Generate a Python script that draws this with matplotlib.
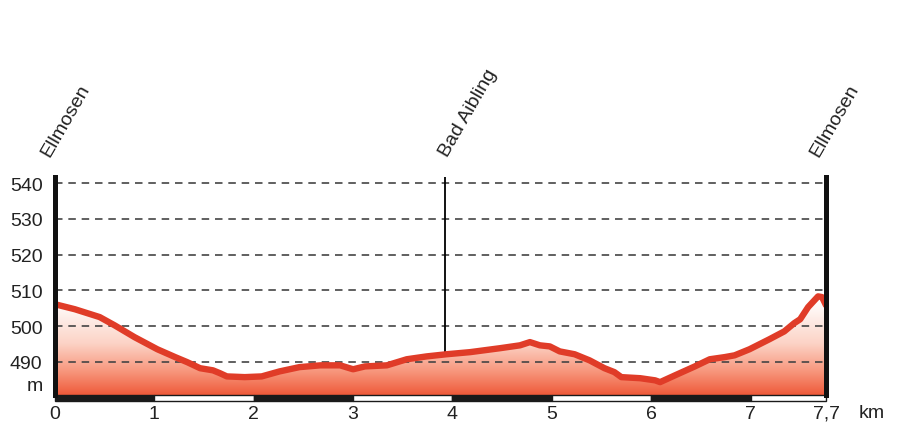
import numpy as np
import matplotlib.pyplot as plt
import matplotlib.transforms as mtransforms
from matplotlib.colors import LinearSegmentedColormap

plt.rcParams['font.family'] = ['Liberation Sans', 'DejaVu Sans']

# elevation profile (km, m)
dist = [0.0, 0.2, 0.45, 0.6, 0.8, 1.03, 1.21, 1.33, 1.46, 1.59, 1.66, 1.73,
        1.91, 2.08, 2.26, 2.46, 2.67, 2.87, 3.0, 3.12, 3.34, 3.54, 3.74, 3.94,
        4.18, 4.48, 4.68, 4.78, 4.88, 4.98, 5.08, 5.23, 5.38, 5.53, 5.63, 5.70,
        5.89, 6.04, 6.09, 6.24, 6.44, 6.59, 6.74, 6.84, 6.99, 7.19, 7.34, 7.44,
        7.50, 7.58, 7.68, 7.72, 7.76]
elev = [506.1, 504.7, 502.5, 500.2, 496.9, 493.5, 491.3, 489.9, 488.2, 487.6,
        486.8, 485.9, 485.7, 485.9, 487.3, 488.5, 489.0, 489.0, 487.9, 488.7,
        489.0, 490.7, 491.5, 492.1, 492.7, 493.8, 494.6, 495.5, 494.6, 494.3,
        492.9, 492.1, 490.4, 488.2, 487.1, 485.7, 485.4, 484.8, 484.3, 486.2,
        488.7, 490.7, 491.3, 491.8, 493.5, 496.3, 498.5, 500.8, 501.9, 505.3,
        508.3, 508.1, 505.8]

places = ['Ellmosen', 'Bad Aibling', 'Ellmosen']
place_km = [0.0, 3.93, 7.76]
place_lbl_x = [-0.06, 3.95, 7.68]

yticks = [490, 500, 510, 520, 530, 540]
xticks = [0, 1, 2, 3, 4, 5, 6, 7, 7.76]
xlabels = ['0', '1', '2', '3', '4', '5', '6', '7', '7,7']

x_max = 7.76
y_min, y_max = 480.7, 541.7

fig = plt.figure(figsize=(9, 4.27), dpi=100)
ax = fig.add_axes([0.0611, 0.0726, 0.8567, 0.5105])
ax.set_xlim(0, x_max)
ax.set_ylim(y_min, y_max)

# gradient fill under the profile
cmap = LinearSegmentedColormap.from_list(
    'prof', [(0.0, '#ef5a3a'), (0.25, '#f7967c'), (0.55, '#fcd3c6'), (1.0, '#ffffff')])
grad = np.linspace(0, 1, 256).reshape(-1, 1)
img = ax.imshow(grad, extent=[0, x_max, y_min, 507], origin='lower', aspect='auto',
                cmap=cmap, zorder=1)
poly = ax.fill_between(dist, elev, y_min, color='none', lw=0)
clip = poly.get_paths()[0]
img.set_clip_path(clip, transform=ax.transData)

# dashed grid
for y in yticks:
    ax.axhline(y, color='#444444', lw=1.2, ls=(0, (4.5, 3.5)), zorder=2)

ax.plot(dist, elev, color='#e03c28', lw=4.6, solid_capstyle='round',
        solid_joinstyle='round', zorder=4)

# place marker line
ax.plot([place_km[1], place_km[1]], [np.interp(place_km[1], dist, elev), y_max],
        color='black', lw=1.3, zorder=3)

for s in ['top', 'bottom']:
    ax.spines[s].set_visible(False)
for s in ['left', 'right']:
    ax.spines[s].set_linewidth(3.6)
    ax.spines[s].set_color('#111111')
    ax.spines[s].set_zorder(5)

# km bar
trans = mtransforms.blended_transform_factory(ax.transData, ax.transAxes)
for i in range(8):
    w = min(1, x_max - i)
    c = '#1a1a1a' if i % 2 == 0 else 'white'
    ax.add_patch(plt.Rectangle((i, -0.026), w, 0.026, transform=trans,
                               facecolor=c, edgecolor='#1a1a1a', lw=1.0,
                               clip_on=False, zorder=5))

ax.set_yticks([483.8] + yticks)
ax.set_yticklabels(['m'] + [str(v) for v in yticks])
ax.set_xticks(xticks)
ax.set_xticklabels(xlabels)
ax.tick_params(axis='y', length=0, pad=9, labelsize=14, colors='#222222')
ax.tick_params(axis='x', length=0, pad=7, labelsize=14, colors='#222222')
ax.text(x_max + 0.33, -0.042, 'km', transform=trans, ha='left', va='top',
        fontsize=14, color='#222222')

for name, xl in zip(places, place_lbl_x):
    ax.text(xl, 1.092, name, transform=trans, rotation=60, rotation_mode='anchor',
            ha='left', va='baseline', fontsize=14, color='#222222', clip_on=False)

fig.savefig('out.png', dpi=100)
